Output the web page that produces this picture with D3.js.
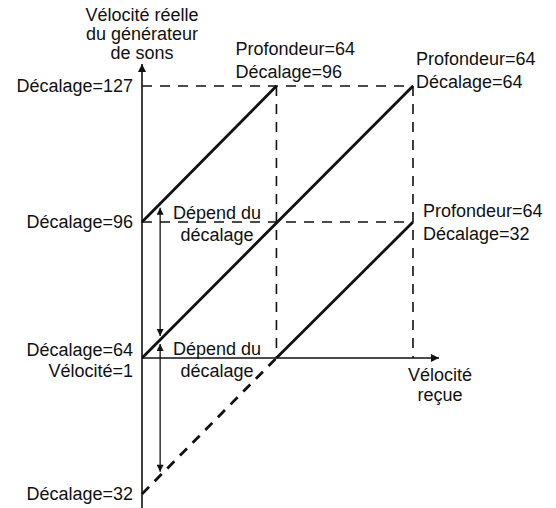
<!DOCTYPE html>
<html>
<head>
<meta charset="utf-8">
<script src="https://cdn.jsdelivr.net/npm/d3@7/dist/d3.min.js"></script>
<style>
  body { margin: 0; background: #fff; }
  svg text { font-family: "Liberation Sans", Arial, Helvetica, sans-serif; font-size: 18px; fill: #111; }
</style>
</head>
<body>
<svg id="chart" width="556" height="508"></svg>
<script>
// schematic values: received velocity (x) against generator velocity (y)
var offsetTicks = [32, 64, 96, 127];
var velMax = 127;
var velKnee = 63;      // where the offset=96 line hits 127 and the offset=32 line crosses 64
var arrowVel = 8.5;

var lineOffset96 = [[0, 96], [velKnee, 127]];
var lineOffset64 = [[0, 64], [velMax, 127]];
var lineOffset32Hidden = [[0, 32], [velKnee, 64]];
var lineOffset32 = [[velKnee, 64], [velMax, 96]];

var guidesH = [127, 96];
var guidesV = [velKnee, velMax];

var leftLabels = [
  { v: 127, dy: 6, text: 'Décalage=127' },
  { v: 96, dy: 6, text: 'Décalage=96' },
  { v: 64, dy: -2, text: 'Décalage=64' },
  { v: 64, dy: 19, text: 'Vélocité=1' },
  { v: 32, dy: 6, text: 'Décalage=32' }
];
var curveLabels = [
  { vel: velKnee, v: 127, dx: -41, lines: ['Profondeur=64', 'Décalage=96'], top: 55 },
  { vel: velMax, v: 127, dx: 3, lines: ['Profondeur=64', 'Décalage=64'], top: 65 },
  { vel: velMax, v: 96, dx: 10, lines: ['Profondeur=64', 'Décalage=32'], top: 217 }
];
var yTitle = ['Vélocité réelle', 'du générateur', 'de sons'];
var xTitle = ['Vélocité', 'reçue'];
var dependLabel = ['Dépend du', 'décalage'];

var svg = d3.select('#chart');

var x = d3.scaleLinear().domain([0, velMax]).range([142, 413]);
// piecewise scale, the figure is not to scale
var y = d3.scaleLinear().domain(offsetTicks).range([494, 358, 222, 86]);

var defs = svg.append('defs');
function marker(id, w, h) {
  defs.append('marker')
    .attr('id', id)
    .attr('viewBox', '0 0 10 10')
    .attr('refX', 10).attr('refY', 5)
    .attr('markerUnits', 'userSpaceOnUse')
    .attr('markerWidth', w).attr('markerHeight', h)
    .attr('orient', 'auto-start-reverse')
    .append('path')
    .attr('d', 'M0,0 L10,5 L0,10 Z')
    .attr('fill', '#111');
}
marker('axisArrow', 12, 8);
marker('smallArrow', 9, 7);

// dashed guide lines
var g = svg.append('g');
g.selectAll('.gh').data(guidesH).enter().append('line')
  .attr('x1', x(0)).attr('x2', x(velMax))
  .attr('y1', function (d) { return y(d); })
  .attr('y2', function (d) { return y(d); })
  .attr('stroke', '#111').attr('stroke-width', 1.6)
  .attr('stroke-dasharray', '10,8');
g.selectAll('.gv').data(guidesV).enter().append('line')
  .attr('x1', function (d) { return x(d); })
  .attr('x2', function (d) { return x(d); })
  .attr('y1', y(127)).attr('y2', y(64))
  .attr('stroke', '#111').attr('stroke-width', 1.6)
  .attr('stroke-dasharray', '10,8');

// axes
svg.append('line')
  .attr('x1', x(0)).attr('x2', x(0))
  .attr('y1', 508).attr('y2', 64)
  .attr('stroke', '#111').attr('stroke-width', 1.6)
  .attr('marker-end', 'url(#axisArrow)');
svg.append('line')
  .attr('x1', x(0)).attr('x2', 439)
  .attr('y1', y(64)).attr('y2', y(64))
  .attr('stroke', '#111').attr('stroke-width', 1.6)
  .attr('marker-end', 'url(#axisArrow)');

// curves
var line = d3.line()
  .x(function (d) { return x(d[0]); })
  .y(function (d) { return y(d[1]); });

[lineOffset96, lineOffset64, lineOffset32].forEach(function (pts) {
  svg.append('path')
    .attr('d', line(pts))
    .attr('fill', 'none')
    .attr('stroke', '#111')
    .attr('stroke-width', 2.8);
});
svg.append('path')
  .attr('d', line(lineOffset32Hidden))
  .attr('fill', 'none')
  .attr('stroke', '#111')
  .attr('stroke-width', 2.8)
  .attr('stroke-dasharray', '10,8');

// double arrows between curves
function valueAt(pts, v) {
  var s = d3.scaleLinear().domain([pts[0][0], pts[1][0]]).range([pts[0][1], pts[1][1]]);
  return s(v);
}
var arrowPairs = [
  [valueAt(lineOffset96, arrowVel), valueAt(lineOffset64, arrowVel)],
  [valueAt(lineOffset64, arrowVel), valueAt(lineOffset32Hidden, arrowVel)]
];
svg.selectAll('.darrow').data(arrowPairs).enter().append('line')
  .attr('x1', x(arrowVel)).attr('x2', x(arrowVel))
  .attr('y1', function (d) { return y(d[0]) + 4; })
  .attr('y2', function (d) { return y(d[1]) - 4; })
  .attr('stroke', '#111').attr('stroke-width', 1.3)
  .attr('marker-start', 'url(#smallArrow)')
  .attr('marker-end', 'url(#smallArrow)');

// texts
svg.selectAll('.yt').data(yTitle).enter().append('text')
  .attr('x', x(0)).attr('y', function (d, i) { return 21 + i * 19; })
  .attr('text-anchor', 'middle').text(function (d) { return d; });

svg.selectAll('.xt').data(xTitle).enter().append('text')
  .attr('x', 440).attr('y', function (d, i) { return 381 + i * 20; })
  .attr('text-anchor', 'middle').text(function (d) { return d; });

svg.selectAll('.ll').data(leftLabels).enter().append('text')
  .attr('x', 133).attr('y', function (d) { return y(d.v) + d.dy; })
  .attr('text-anchor', 'end').text(function (d) { return d.text; });

curveLabels.forEach(function (c) {
  svg.selectAll(null).data(c.lines).enter().append('text')
    .attr('x', x(c.vel) + c.dx)
    .attr('y', function (d, i) { return c.top + i * 23; })
    .text(function (d) { return d; });
});

[y(96) - 3, y(64) - 3].forEach(function (base) {
  svg.selectAll(null).data(dependLabel).enter().append('text')
    .attr('x', 217).attr('y', function (d, i) { return base + i * 22; })
    .attr('text-anchor', 'middle').text(function (d) { return d; });
});
</script>
</body>
</html>
